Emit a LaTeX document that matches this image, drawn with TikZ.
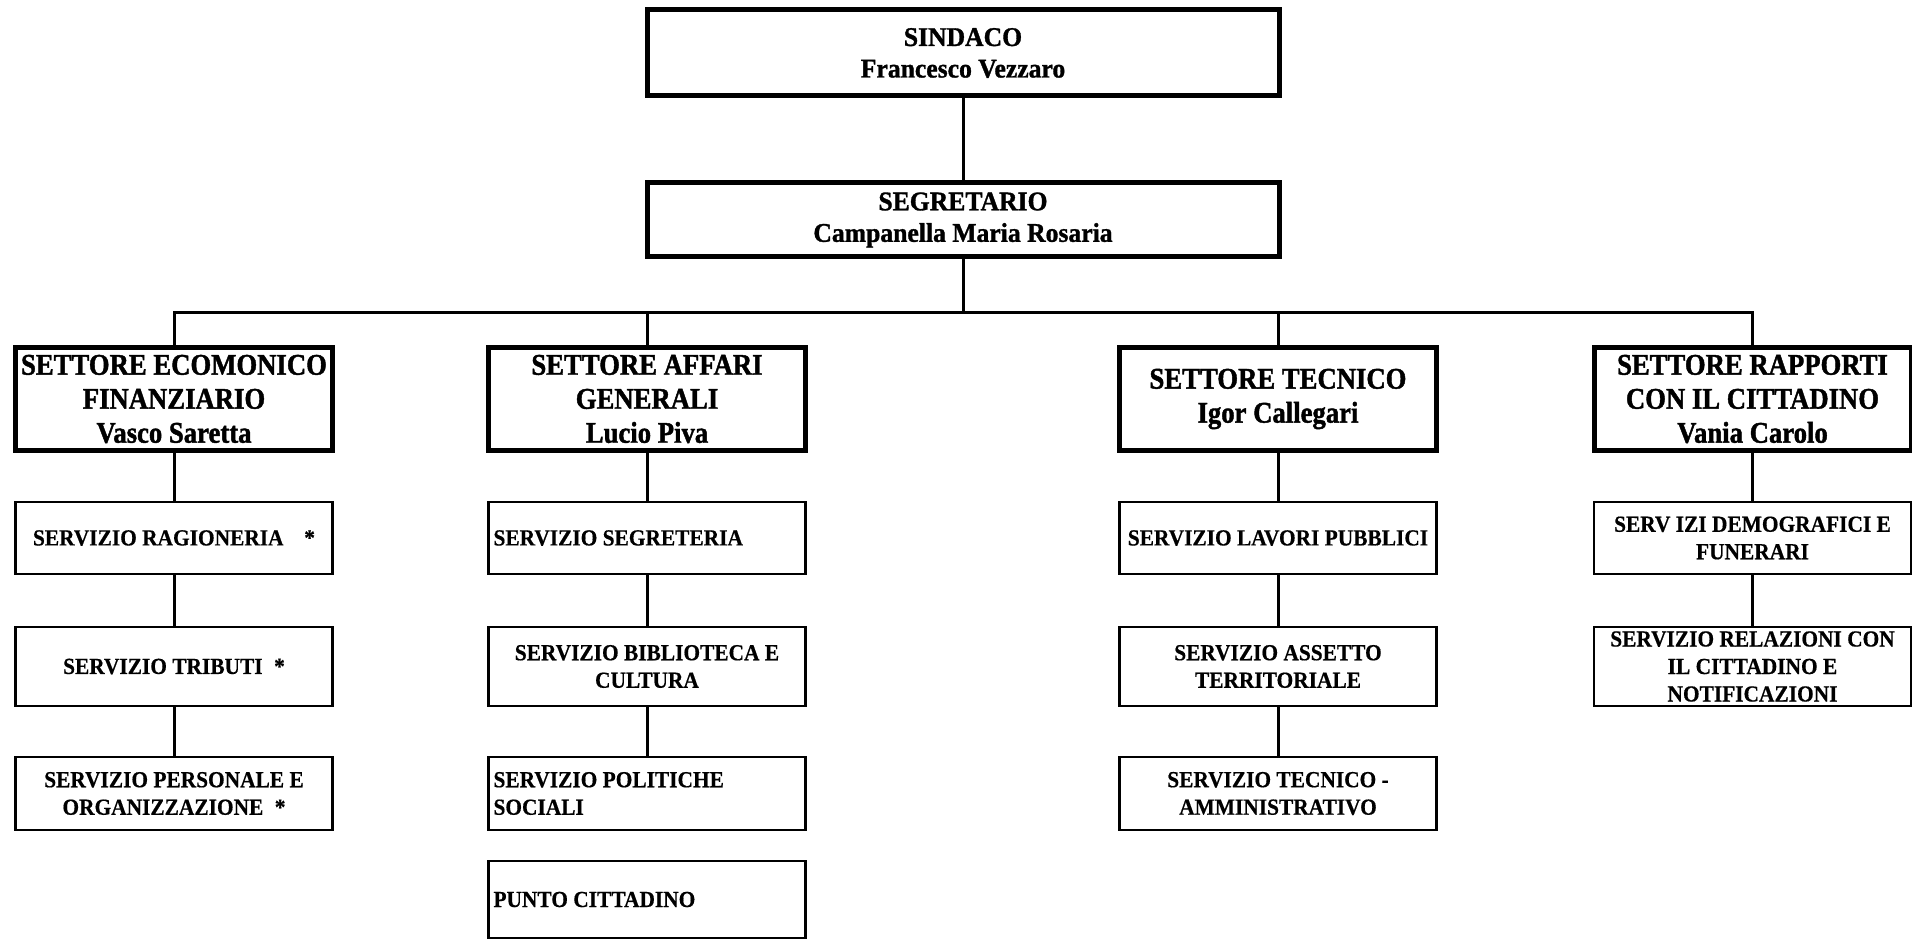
\documentclass[tikz,border=0pt]{standalone}
\usepackage{fontspec}
\setmainfont{Liberation Serif}
\newfontfamily\orgTop[FakeStretch=0.95,FakeBold=1.2]{Liberation Serif Bold}
\newfontfamily\orgSet[FakeStretch=0.89,FakeBold=1.4]{Liberation Serif Bold}
\newfontfamily\orgServ[FakeStretch=0.93,FakeBold=0.5]{Liberation Serif Bold}
\begin{document}
\begin{tikzpicture}[x=1pt,y=-1pt,
  topbox/.style={draw, line width=5pt, minimum width=632pt, minimum height=86pt, inner sep=2pt, align=center,
    font=\orgTop\fontsize{27}{31.5}\selectfont},
  setbox/.style={draw, line width=5pt, minimum width=317pt, minimum height=102pt, inner sep=2pt, align=center,
    font=\orgSet\fontsize{30}{34}\selectfont},
  servbox/.style={draw, line width=2.7pt, minimum width=317pt, inner sep=2pt, align=center,
    font=\orgServ\fontsize{23}{27.5}\selectfont},
  servleft/.style={servbox, align=flush left, text width=307pt, inner xsep=5pt},
  conn/.style={draw, line width=3pt, line join=miter}]
\useasboundingbox (0,0) rectangle (1912,941);
% top
\node[topbox] (sindaco) at (963,53) {SINDACO\\Francesco Vezzaro};
\node[topbox, minimum height=74pt] (segr) at (963,220) {SEGRETARIO\\Campanella Maria Rosaria};
\coordinate (bus) at (963,313);
% settori
\node[setbox] (se1) at (174,399) {SETTORE ECOMONICO\\FINANZIARIO\\Vasco Saretta};
\node[setbox] (se2) at (647,399) {SETTORE AFFARI\\GENERALI\\Lucio Piva};
\node[setbox] (se3) at (1278,399) {SETTORE TECNICO\\Igor Callegari};
\node[setbox] (se4) at (1752.5,399) {SETTORE RAPPORTI\\CON IL CITTADINO\\Vania Carolo};
% col 1
\node[servbox, minimum height=72pt] (a1) at (174,538) {SERVIZIO RAGIONERIA\hspace{0.9em}*};
\node[servbox, minimum height=79pt] (a2) at (174,666.5) {SERVIZIO TRIBUTI\hspace{0.5em}*};
\node[servbox, minimum height=73pt] (a3) at (174,793.5) {SERVIZIO PERSONALE E\\ORGANIZZAZIONE\hspace{0.5em}*};
% col 2
\node[servleft, minimum height=72pt] (b1) at (647,538) {SERVIZIO SEGRETERIA};
\node[servbox, minimum height=79pt] (b2) at (647,666.5) {SERVIZIO BIBLIOTECA E\\CULTURA};
\node[servleft, minimum height=73pt] (b3) at (647,793.5) {SERVIZIO POLITICHE\\SOCIALI};
\node[servleft, minimum height=77pt] (b4) at (647,899.5) {PUNTO CITTADINO};
% col 3
\node[servbox, minimum height=72pt] (c1) at (1278,538) {SERVIZIO LAVORI PUBBLICI};
\node[servbox, minimum height=79pt] (c2) at (1278,666.5) {SERVIZIO ASSETTO\\TERRITORIALE};
\node[servbox, minimum height=73pt] (c3) at (1278,793.5) {SERVIZIO TECNICO -\\AMMINISTRATIVO};
% col 4
\node[servbox, minimum height=72pt] (d1) at (1752.5,538) {SERV IZI DEMOGRAFICI E\\FUNERARI};
\node[servbox, minimum height=79pt] (d2) at (1752.5,666.5) {SERVIZIO RELAZIONI CON\\IL CITTADINO E\\NOTIFICAZIONI};
% connectors
\draw[conn] (sindaco) -- (segr);
\draw[conn] (segr.south) -- (bus);
\draw[conn] (se1.north) -- (se1.north |- bus) -- (se4.north |- bus) -- (se4.north);
\draw[conn] (se2.north) -- (se2.north |- bus);
\draw[conn] (se3.north) -- (se3.north |- bus);
\draw[conn] (se1) -- (a1);
\draw[conn] (a1) -- (a2);
\draw[conn] (a2) -- (a3);
\draw[conn] (se2) -- (b1);
\draw[conn] (b1) -- (b2);
\draw[conn] (b2) -- (b3);
\draw[conn] (se3) -- (c1);
\draw[conn] (c1) -- (c2);
\draw[conn] (c2) -- (c3);
\draw[conn] (se4) -- (d1);
\draw[conn] (d1) -- (d2);
\end{tikzpicture}
\end{document}
